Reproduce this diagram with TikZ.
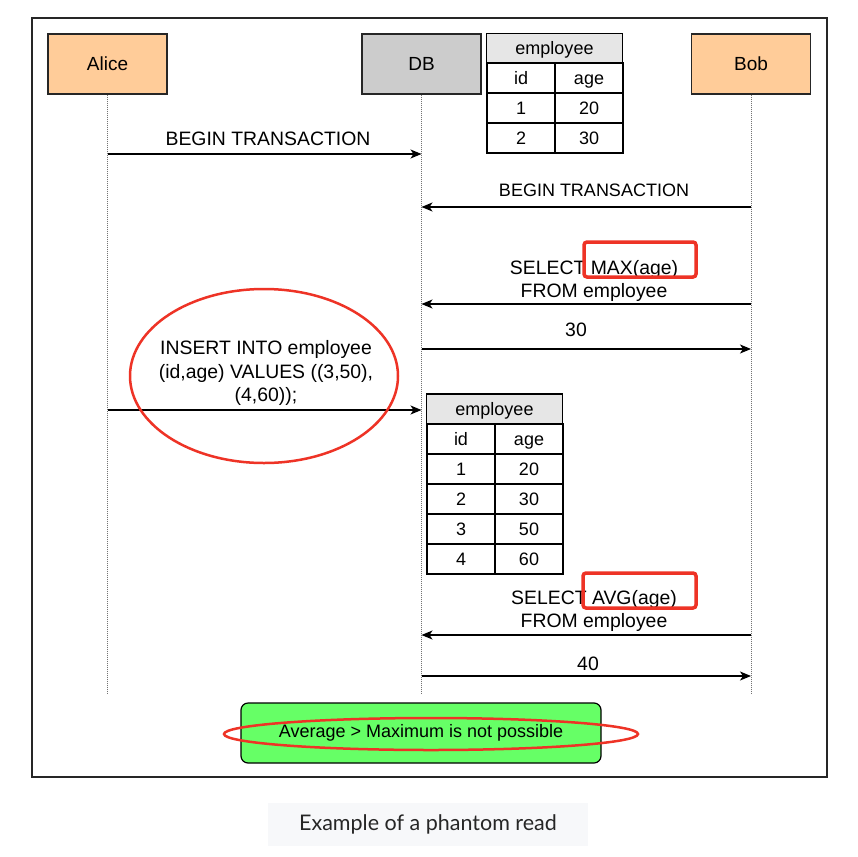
\documentclass[tikz,border=0pt]{standalone}
\usepackage{fontspec}
\setmainfont{Liberation Sans}
\newfontfamily\capfont{Lato}
\usetikzlibrary{arrows.meta,shapes.geometric}
\definecolor{peach}{HTML}{FFCC99}
\definecolor{dbgrey}{HTML}{CCCCCC}
\definecolor{hdrgrey}{HTML}{E6E6E6}
\definecolor{hlred}{HTML}{EE3326}
\definecolor{okgreen}{HTML}{66FF66}
\definecolor{capbg}{HTML}{F7F8FA}
\tikzset{
  actor/.style={draw=black!85, line width=1.2pt, minimum width=119pt, minimum height=60pt, inner sep=0pt, font=\fontsize{19}{22}\selectfont},
  lifeline/.style={draw=black!55, line width=0.9pt, dash pattern=on 1pt off 1pt},
  msg/.style={draw=black, line width=1.3pt, -{Stealth[length=11pt,width=9pt,inset=3pt]}},
  lbl/.style={font=\fontsize{19.4}{23.5}\selectfont, inner sep=0pt, align=center},
  cell/.style={draw=black, line width=1.2pt, minimum width=68pt, minimum height=30pt, inner sep=0pt, text height=13pt, text depth=0pt, font=\fontsize{18}{21}\selectfont},
  hdr/.style={cell, fill=hdrgrey, minimum width=136pt},
  hlbox/.style={draw=hlred, line width=3.5pt, rounded corners=3pt},
  hlell/.style={draw=hlred, line width=2.5pt, ellipse, inner sep=0pt},
}
\begin{document}
\begin{tikzpicture}[x=1pt,y=-1pt]
\useasboundingbox (0,0) rectangle (858,856);
\fill[white] (0,0) rectangle (858,856);
% frame
\draw[line width=1.2pt, draw=black!85] (32,18) rectangle (827,777);
% actors
\node[actor, fill=peach] (alice) at (107.5,64) {Alice};
\node[actor, fill=dbgrey] (db) at (421.5,64) {DB};
\node[actor, fill=peach] (bob) at (751,64) {Bob};
% lifeline ends
\coordinate (aliceEnd) at (107.5,693);
\coordinate (dbEnd) at (421.5,693);
\coordinate (bobEnd) at (751,693);
\draw[lifeline] (alice.south) -- (aliceEnd);
\draw[lifeline] (db.south) -- (dbEnd);
\draw[lifeline] (bob.south) -- (bobEnd);
% table 1
\node[hdr] (t1h) at (554.5,48.5) {employee};
\node[cell] (t1a) at (521,78) {id};
\node[cell] (t1b) at (589,78) {age};
\node[cell] (t1c) at (521,108) {1};
\node[cell] (t1d) at (589,108) {20};
\node[cell] (t1e) at (521,138) {2};
\node[cell] (t1f) at (589,138) {30};
% message coordinates
\coordinate (a1) at (107.5,154); \coordinate (d1) at (421.5,154);
\coordinate (b2) at (751,207); \coordinate (d2) at (421.5,207);
\coordinate (b3) at (751,304); \coordinate (d3) at (421.5,304);
\coordinate (d4) at (421.5,349); \coordinate (b4) at (751,349);
\coordinate (a5) at (107.5,410); \coordinate (d5) at (421.5,410);
\coordinate (b6) at (751,635); \coordinate (d6) at (421.5,635);
\coordinate (d7) at (421.5,676); \coordinate (b7) at (751,676);
\draw[msg] (a1) -- (d1);
\draw[msg] (b2) -- (d2);
\draw[msg] (b3) -- (d3);
\draw[msg] (d4) -- (b4);
\draw[msg] (a5) -- (d5);
\draw[msg] (b6) -- (d6);
\draw[msg] (d7) -- (b7);
% labels
\node[lbl] (l1) at (268,138.5) {BEGIN TRANSACTION};
\node[lbl, font=\fontsize{18}{21}\selectfont] (l2) at (594,190.5) {BEGIN TRANSACTION};
\node[lbl] (l3) at (594,281) {SELECT MAX(age)\\FROM employee};
\node[lbl] (l4) at (576,329.5) {30};
\node[lbl] (l5) at (266,373) {INSERT INTO employee\\(id,age) VALUES ((3,50),\\(4,60));};
\node[lbl] (l6) at (594,611) {SELECT AVG(age)\\FROM employee};
\node[lbl] (l7) at (588,663.5) {40};
% table 2
\node[hdr] (t2h) at (494.5,409) {employee};
\node[cell] (t2a) at (461,439) {id};
\node[cell] (t2b) at (529,439) {age};
\node[cell] (t2c) at (461,469) {1};
\node[cell] (t2d) at (529,469) {20};
\node[cell] (t2e) at (461,499) {2};
\node[cell] (t2f) at (529,499) {30};
\node[cell] (t2g) at (461,529) {3};
\node[cell] (t2h2) at (529,529) {50};
\node[cell] (t2i) at (461,559) {4};
\node[cell] (t2j) at (529,559) {60};
% highlights
\draw[hlbox] (584,242) rectangle (696,277);
\draw[hlbox] (583,573) rectangle (696,608);
\node[hlell, minimum width=268pt, minimum height=174pt] (ins) at (264,376) {};
% conclusion
\node[draw=black, line width=1.2pt, fill=okgreen, rounded corners=7pt, minimum width=360pt, minimum height=60pt, inner sep=0pt, font=\fontsize{18}{21}\selectfont] (concl) at (421,733) {Average > Maximum is not possible};
\node[hlell, minimum width=414pt, minimum height=32pt] (cell2) at (431,734) {};
% caption
\node[fill=capbg, minimum width=320pt, minimum height=43pt, inner sep=0pt, font=\capfont\fontsize{21.5}{25}\selectfont, text=black!85] (cap) at (428,824) {Example of a phantom read};
\end{tikzpicture}
\end{document}
